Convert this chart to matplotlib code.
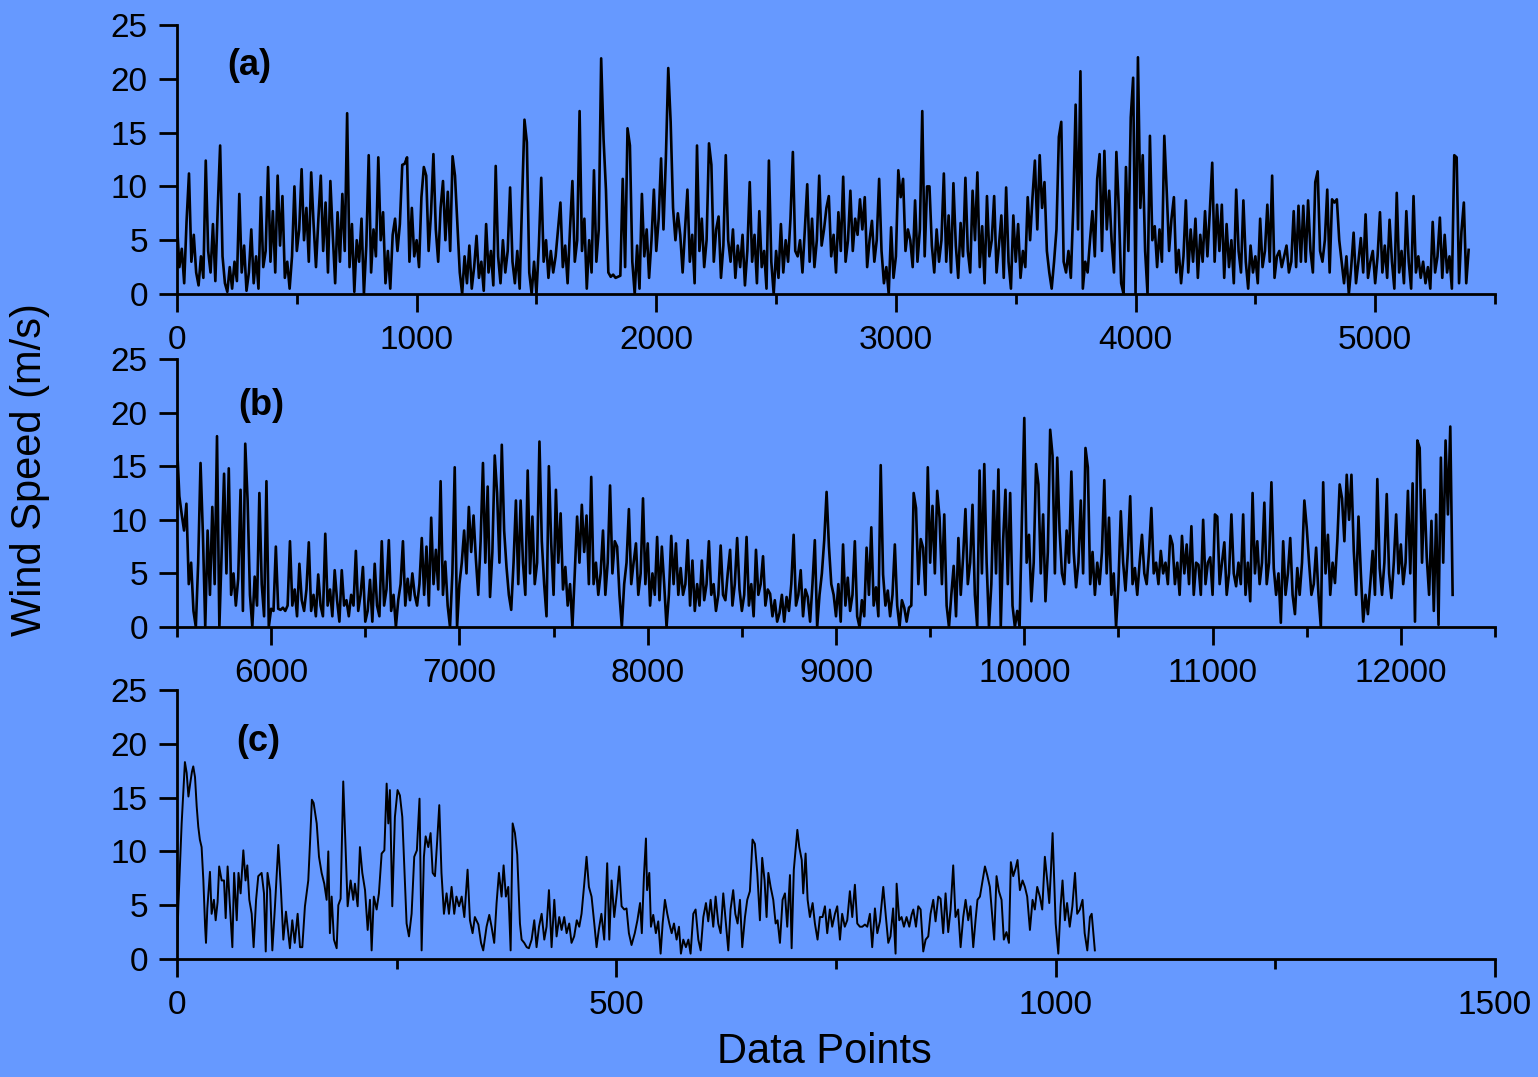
import numpy as np
import matplotlib
matplotlib.use('Agg')
import matplotlib.pyplot as plt
from matplotlib.ticker import MultipleLocator

plt.rcParams['font.family'] = ['Liberation Sans', 'DejaVu Sans']

BG = '#6699ff'

# (a) 0 .. 5390, one value every 10 data points
a_step = 10
a_speed = [
    6.5, 2.5, 4.2, 1.0, 6.8, 11.2, 3.0, 5.5, 2.0, 0.8,
    3.5, 1.5, 12.4, 4.0, 2.0, 6.5, 1.2, 8.0, 13.8, 3.5,
    1.0, 0.2, 2.5, 0.5, 3.0, 1.2, 9.3, 2.0, 4.5, 0.3,
    2.0, 6.0, 1.0, 3.5, 0.5, 9.0, 2.5, 4.0, 11.8, 3.0,
    7.7, 2.0, 11.0, 4.5, 9.1, 1.5, 3.0, 0.5, 3.5, 10.0,
    4.0, 6.0, 11.6, 5.0, 8.0, 3.0, 11.3, 6.5, 2.5, 7.0,
    11.0, 4.0, 8.5, 2.0, 10.5, 5.5, 1.0, 7.6, 3.0, 9.3,
    4.0, 16.8, 2.5, 6.5, 0.2, 5.0, 3.0, 7.0, 0.0, 4.5,
    12.9, 2.0, 6.0, 3.5, 12.7, 5.0, 7.6, 1.0, 4.0, 0.5,
    5.5, 7.0, 4.0, 6.5, 12.0, 12.1, 12.7, 3.0, 8.0, 3.5,
    5.0, 2.5, 9.0, 11.8, 11.0, 4.0, 7.5, 13.0, 6.0, 3.0,
    8.0, 10.5, 5.0, 9.5, 4.0, 12.8, 11.0, 6.5, 2.0, 0.0,
    3.5, 1.0, 4.5, 0.5, 2.5, 5.4, 1.5, 3.0, 0.3, 6.5,
    2.0, 4.0, 0.8, 11.9, 3.5, 1.0, 5.0, 2.0, 4.0, 9.9,
    3.0, 1.0, 4.0, 0.5, 8.7, 16.2, 14.1, 2.0, 0.0, 3.0,
    0.0, 4.5, 10.8, 3.0, 5.0, 1.5, 4.0, 2.0, 3.5, 6.0,
    8.5, 2.5, 4.5, 1.0, 6.0, 10.5, 3.0, 5.0, 17.0, 4.0,
    7.0, 0.5, 5.0, 2.0, 11.5, 3.0, 6.0, 21.9, 14.4, 9.7,
    2.0, 1.6, 1.8, 1.5, 1.6, 1.7, 10.7, 2.5, 15.4, 13.8,
    3.0, 0.0, 4.5, 0.5, 9.3, 3.5, 6.0, 1.5, 5.0, 9.7,
    4.0, 7.0, 12.6, 6.0, 12.6, 21.0, 16.0, 8.0, 5.0, 7.5,
    5.5, 2.0, 6.0, 9.7, 3.0, 5.5, 1.0, 13.8, 4.0, 7.0,
    2.5, 5.0, 14.0, 12.0, 3.0, 6.0, 7.2, 1.5, 4.5, 12.9,
    5.0, 3.0, 6.0, 1.5, 4.5, 2.5, 5.5, 0.8, 4.0, 10.4,
    3.0, 5.5, 1.0, 7.7, 2.5, 4.0, 0.5, 12.4, 3.0, 0.0,
    4.0, 1.5, 6.5, 2.0, 5.0, 3.0, 7.0, 13.2, 4.0, 3.5,
    5.0, 2.0, 6.0, 10.2, 3.0, 7.0, 2.5, 5.0, 11.0, 4.5,
    6.0, 8.0, 9.1, 3.5, 5.5, 2.0, 7.6, 4.0, 10.9, 3.0,
    5.0, 9.6, 4.0, 7.0, 5.5, 8.8, 6.0, 9.0, 2.5, 5.0,
    6.8, 3.0, 5.0, 10.7, 4.0, 1.0, 2.5, 0.0, 6.2, 1.5,
    3.5, 11.5, 9.0, 10.7, 4.0, 6.0, 5.0, 2.5, 8.7, 3.0,
    6.0, 17.0, 3.5, 10.0, 10.0, 4.5, 2.0, 6.0, 3.0, 5.0,
    11.2, 3.0, 7.3, 2.0, 10.3, 4.5, 1.5, 6.6, 3.5, 10.8,
    4.0, 2.0, 9.6, 5.0, 11.3, 2.5, 6.3, 1.0, 9.1, 3.5,
    5.0, 9.1, 2.0, 4.5, 7.3, 1.5, 9.9, 3.0, 0.5, 7.3,
    3.0, 6.5, 1.5, 4.0, 2.5, 9.0, 5.0, 9.0, 12.4, 6.0,
    12.9, 8.0, 10.4, 4.0, 2.0, 0.5, 3.0, 6.0, 14.6, 16.0,
    3.0, 2.0, 4.0, 1.5, 8.0, 17.6, 6.0, 20.7, 0.5, 3.0,
    2.0, 5.0, 7.7, 3.5, 10.7, 13.0, 4.0, 13.3, 6.0, 9.6,
    5.0, 2.0, 13.2, 8.0, 1.0, 0.0, 11.8, 4.0, 16.4, 20.1,
    0.0, 22.0, 8.0, 12.9, 4.0, 0.0, 14.7, 5.0, 6.3, 2.5,
    6.0, 3.0, 14.7, 9.6, 4.0, 7.0, 9.0, 2.0, 4.1, 1.0,
    3.5, 8.7, 2.0, 6.0, 3.0, 7.0, 1.5, 5.5, 3.0, 7.7,
    3.5, 7.7, 12.2, 3.0, 8.3, 4.0, 8.3, 1.5, 6.5, 2.5,
    5.0, 1.0, 9.7, 4.0, 2.0, 8.7, 3.0, 0.5, 4.5, 2.0,
    3.5, 1.0, 7.0, 2.5, 4.0, 8.3, 3.0, 11.0, 1.5, 3.5,
    4.0, 2.5, 3.5, 4.5, 2.0, 3.0, 7.7, 2.5, 8.2, 3.0,
    8.2, 3.0, 8.7, 4.0, 2.0, 10.4, 11.4, 4.0, 3.0, 5.0,
    9.7, 2.0, 8.8, 8.5, 8.8, 5.0, 3.0, 1.0, 3.5, 0.0,
    2.5, 5.7, 1.0, 3.0, 5.2, 2.0, 7.4, 1.5, 3.0, 4.0,
    1.0, 3.5, 7.6, 2.0, 4.5, 1.5, 6.9, 3.0, 0.5, 9.4,
    2.0, 4.0, 1.0, 7.7, 3.0, 0.5, 9.1, 2.0, 3.5, 1.5,
    3.0, 1.0, 2.5, 0.5, 6.7, 2.0, 3.5, 7.1, 1.5, 5.5,
    2.0, 3.5, 0.5, 12.9, 12.7, 1.0, 5.8, 8.5, 1.0, 4.1,
]

# (b) 5500 .. 12275, one value every 12.5 data points
b_start = 5500
b_step = 12.5
b_speed = [
    17.0, 12.2, 10.5, 9.0, 11.5, 4.0, 6.0, 1.5,
    0.0, 6.0, 15.3, 8.7, 0.0, 9.0, 3.0, 11.2,
    4.0, 17.8, 0.0, 7.0, 14.3, 5.0, 14.8, 3.0,
    5.0, 2.0, 4.5, 12.8, 1.5, 17.1, 11.8, 3.0,
    0.0, 4.7, 2.0, 12.5, 4.0, 1.0, 13.6, 0.0,
    1.7, 1.5, 7.5, 1.7, 1.6, 1.8, 1.5, 2.0,
    8.0, 2.0, 3.5, 1.0, 5.9, 2.5, 1.5, 3.5,
    7.9, 1.5, 3.0, 1.0, 4.9, 2.0, 1.0, 8.7,
    2.0, 3.5, 1.0, 5.3, 2.5, 0.5, 5.3, 2.0,
    2.5, 1.0, 3.0, 2.0, 7.1, 1.5, 3.0, 5.6,
    0.5, 1.5, 4.4, 0.5, 5.9, 2.0, 1.0, 8.0,
    2.0, 3.5, 8.1, 1.5, 3.0, 0.0, 2.5, 4.0,
    8.0, 2.0, 4.5, 2.5, 5.0, 3.0, 2.0, 4.0,
    8.3, 3.0, 7.5, 2.0, 10.2, 4.0, 7.2, 3.5,
    13.6, 3.0, 6.1, 2.0, 0.0, 5.0, 14.9, 0.0,
    4.0, 6.0, 9.0, 5.0, 11.2, 7.0, 10.4, 6.3,
    3.0, 8.0, 15.3, 6.0, 13.1, 2.8, 7.0, 16.0,
    12.5, 6.0, 17.0, 9.0, 5.6, 3.0, 1.6, 6.0,
    11.8, 4.0, 11.8, 6.0, 3.0, 14.6, 5.0, 10.3,
    4.0, 6.0, 17.3, 8.0, 4.0, 1.0, 15.0, 7.8,
    3.0, 12.8, 6.0, 10.6, 3.5, 5.6, 2.0, 4.0,
    0.0, 5.0, 10.3, 6.0, 11.4, 7.0, 10.4, 4.0,
    14.0, 4.0, 6.0, 3.0, 5.0, 9.0, 3.0, 6.0,
    13.2, 5.0, 8.0, 7.5, 3.0, 0.0, 4.0, 6.0,
    11.0, 4.0, 6.0, 7.8, 3.0, 5.0, 12.0, 4.0,
    7.8, 2.0, 5.0, 3.0, 8.4, 2.5, 7.5, 4.0,
    0.0, 3.0, 8.5, 4.0, 7.8, 3.0, 5.5, 3.0,
    4.0, 8.1, 2.0, 6.2, 1.5, 4.0, 2.0, 6.2,
    2.5, 4.0, 8.0, 3.0, 4.0, 1.5, 3.0, 7.6,
    3.0, 2.5, 5.0, 7.2, 2.0, 4.0, 8.3, 3.5,
    1.5, 3.0, 8.4, 2.0, 4.0, 1.0, 7.2, 3.0,
    4.0, 6.6, 2.0, 3.5, 3.1, 1.0, 2.5, 0.5,
    1.3, 3.0, 0.5, 2.8, 1.5, 4.0, 8.6, 2.0,
    3.0, 5.3, 1.0, 3.5, 2.8, 0.5, 4.0, 8.1,
    0.0, 3.0, 5.0, 8.1, 12.6, 7.5, 4.0, 3.0,
    1.0, 4.0, 0.5, 7.7, 2.0, 4.6, 1.5, 3.0,
    8.0, 1.0, 0.0, 2.5, 1.0, 7.4, 3.0, 9.3,
    2.0, 3.7, 1.0, 15.1, 4.9, 2.0, 3.4, 1.0,
    3.0, 7.7, 2.0, 0.0, 2.5, 1.8, 0.5, 1.8,
    2.0, 12.5, 11.1, 4.0, 8.2, 7.4, 3.0, 14.9,
    6.0, 11.3, 5.0, 12.7, 10.2, 4.0, 10.5, 2.0,
    0.0, 3.0, 5.7, 1.0, 8.3, 3.0, 6.5, 11.0,
    4.0, 6.0, 11.4, 3.0, 0.0, 14.6, 5.0, 15.2,
    6.0, 0.0, 4.0, 12.7, 5.0, 14.7, 0.0, 8.0,
    12.8, 4.0, 12.5, 2.0, 0.0, 1.5, 0.0, 10.2,
    19.5, 6.0, 8.6, 2.4, 6.0, 15.2, 13.3, 5.0,
    10.5, 2.4, 7.0, 18.4, 16.0, 5.0, 15.8, 9.0,
    5.0, 4.0, 9.0, 6.0, 14.5, 7.0, 3.7, 6.0,
    11.8, 5.0, 16.7, 14.9, 4.0, 7.0, 3.0, 6.0,
    4.0, 7.0, 13.7, 5.0, 10.2, 3.0, 5.0, 0.0,
    4.0, 10.8, 6.0, 3.4, 7.0, 12.2, 4.0, 5.5,
    3.0, 6.0, 8.6, 5.0, 4.0, 7.0, 11.1, 5.0,
    6.0, 4.0, 7.1, 5.0, 6.0, 4.0, 8.5, 7.7,
    4.0, 6.0, 3.0, 8.5, 5.0, 7.7, 4.0, 9.4,
    3.0, 6.0, 5.8, 3.0, 10.0, 4.0, 6.0, 6.5,
    3.0, 10.5, 10.3, 4.0, 6.0, 7.9, 3.0, 5.0,
    10.5, 5.0, 3.8, 6.0, 4.0, 10.5, 3.0, 6.0,
    2.4, 12.5, 5.0, 8.0, 4.0, 6.0, 11.6, 4.0,
    6.0, 13.5, 5.5, 3.0, 5.0, 0.4, 8.0, 3.0,
    5.0, 8.3, 3.0, 1.2, 5.5, 3.0, 6.0, 11.8,
    9.3, 6.0, 3.0, 4.0, 7.4, 3.0, 0.0, 13.5,
    5.0, 8.6, 3.0, 6.0, 4.1, 8.0, 13.3, 12.0,
    8.0, 14.2, 10.0, 14.2, 7.1, 3.0, 10.3, 5.0,
    0.5, 3.0, 1.2, 4.0, 7.1, 3.0, 13.8, 5.5,
    3.0, 6.0, 12.4, 5.0, 2.7, 6.0, 10.5, 5.0,
    7.7, 4.0, 6.0, 12.7, 5.0, 13.4, 0.5, 17.4,
    16.7, 6.0, 12.8, 6.5, 3.0, 9.9, 1.5, 10.5,
    0.2, 15.8, 6.0, 17.4, 10.5, 18.7, 3.0,
]

# (c) 0 .. 1045
c_x = [
    0, 1.5, 5.3, 9, 11, 13, 15, 17, 18.5, 20.5,
    22.4, 24.2, 26, 28, 30, 32, 33, 34.5, 37.5, 39.4,
    42, 44, 46.2, 48, 50.8, 53.5, 55.4, 57.6, 60.3, 63,
    65, 68, 70, 72.4, 75.5, 78, 80, 82.3, 85, 87.2,
    90, 92.5, 96.3, 99, 101, 103, 106, 108.5, 111.5, 115.3,
    118.3, 121, 124, 126.7, 128.5, 131.2, 134, 137.3, 140, 142.6,
    145.6, 149.4, 151.5, 153.5, 155.5, 159, 161.6, 164.6, 167.6, 170.3,
    172.2, 174, 176, 178.6, 181.7, 183.6, 186.2, 189.2, 192, 194.2,
    197.6, 200.6, 202.5, 205.6, 208.2, 210.9, 214, 217, 219.6, 221.5,
    224, 227.2, 229.8, 232.9, 236, 238.6, 240.5, 242.3, 245, 248,
    251, 253.7, 256.4, 258.7, 261.3, 264, 267, 270, 273, 276,
    278.4, 281, 283, 286, 288.6, 291, 293.6, 296.2, 298.5, 301,
    303.8, 306.8, 309.5, 312.5, 315.5, 318, 321, 324, 327, 330.7,
    333.4, 336.4, 339, 343, 346, 348.5, 352.3, 355.4, 358, 361,
    363.7, 366.4, 369.4, 371.7, 374.3, 377, 379.7, 382, 384.6, 387.2,
    390.3, 392.2, 395.2, 398, 400.5, 403.6, 406.6, 409.2, 412, 415,
    418, 420.6, 423.3, 426.3, 429.4, 432, 435, 437.7, 440.7, 443.4,
    446.4, 449, 452, 455, 457.8, 460.4, 463.5, 466.1, 468.8, 471.8,
    474.9, 477.5, 480, 483, 486.2, 489.6, 492, 494.6, 497.6, 501,
    503.3, 506, 509, 511.6, 514.3, 517.3, 521, 524, 527, 529,
    531.4, 533.7, 535, 537.5, 539.4, 542, 545, 547.7, 550.4, 552.7,
    555.3, 558, 560.3, 563, 565.6, 568.6, 571.3, 573.5, 576.2, 579.2,
    582, 584.5, 587.6, 590.2, 593.3, 596, 599, 602, 604.6, 607.3,
    610.3, 613, 616, 618.7, 621.7, 624.4, 627.4, 630, 633, 635.4,
    638, 640.7, 643.3, 646.4, 649, 652, 655, 657.7, 660.4, 663.4,
    666, 668.7, 671, 673, 675.6, 678.6, 681.3, 683.5, 686.2, 689.2,
    691.9, 694.5, 697.6, 699.5, 702, 706, 708.2, 711, 712.7, 715.4,
    717.7, 720.3, 723.4, 726, 729, 731.7, 734.7, 737.4, 740, 743,
    745.7, 748.8, 751.4, 754.5, 757, 760, 762.8, 765.8, 768.5, 771.5,
    774.2, 777.2, 779.9, 782.9, 785.6, 788.6, 791.2, 794.3, 797, 800,
    803.8, 806.8, 809.5, 812, 815, 817.8, 819, 822, 824.6, 827.3,
    830.3, 833.4, 836, 838, 841, 843.6, 846.3, 849.3, 852, 855,
    857.6, 860.7, 863.3, 866.4, 869, 872, 874.7, 877.7, 880.4, 883.4,
    886, 889, 891.8, 894.8, 897.5, 900.5, 903.1, 906.2, 908.8, 911,
    913.8, 916.8, 919.5, 922.1, 925.1, 928.2, 930, 932.7, 935.4, 938.4,
    941, 944, 946.8, 949, 951.7, 954.3, 956.6, 959.3, 962.3, 965,
    967.6, 970.7, 973.7, 976.3, 979, 982, 984.7, 987.7, 990.4, 992.7,
    994.5, 996.5, 998.3, 1000, 1003, 1005.6, 1007.8, 1010.5, 1013, 1016,
    1019, 1022, 1024.5, 1027.5, 1030.6, 1033, 1036, 1039, 1041, 1044.6,
]
c_speed = [
    0.3, 4.9, 12.6, 18.3, 17.3, 15.1, 16.3, 17.4, 17.9, 16.9,
    14.2, 12.3, 11.1, 10.4, 7.3, 3.0, 1.5, 4.7, 8.1, 4.2,
    5.5, 3.6, 5.3, 8.6, 7.3, 7.3, 3.8, 8.6, 4.9, 1.1,
    8.0, 3.6, 8.0, 6.1, 10.1, 7.3, 8.7, 5.5, 4.2, 1.1,
    5.5, 7.7, 8.0, 6.1, 0.7, 8.0, 6.4, 0.8, 4.9, 10.6,
    6.4, 1.8, 4.4, 2.4, 1.0, 3.6, 1.5, 4.2, 1.1, 1.1,
    4.9, 7.3, 11.0, 14.8, 14.5, 12.6, 9.5, 8.0, 7.0, 5.5,
    10.0, 2.4, 5.8, 1.8, 1.0, 5.0, 5.6, 16.5, 10.1, 4.9,
    7.3, 5.5, 7.0, 4.9, 10.4, 8.0, 6.4, 2.7, 5.5, 0.8,
    5.8, 4.6, 6.1, 9.8, 10.1, 16.3, 12.6, 15.7, 4.9, 13.2,
    15.7, 15.2, 13.2, 8.6, 3.3, 2.1, 4.2, 9.5, 10.1, 14.9,
    0.8, 9.5, 11.4, 10.4, 11.7, 8.0, 7.7, 11.1, 14.3, 8.0,
    4.2, 6.1, 4.2, 6.7, 4.2, 5.8, 4.9, 5.8, 3.9, 8.3,
    3.6, 2.4, 3.9, 3.2, 1.5, 0.8, 3.0, 4.1, 3.0, 1.5,
    5.2, 8.0, 5.8, 8.7, 5.8, 6.7, 0.8, 12.6, 11.7, 9.7,
    3.3, 1.8, 1.5, 1.1, 1.0, 1.8, 3.6, 1.1, 3.0, 4.2,
    1.8, 3.0, 6.4, 1.1, 5.5, 2.1, 3.9, 2.7, 3.9, 2.4,
    3.3, 1.5, 2.1, 3.6, 3.0, 4.2, 7.0, 9.5, 6.7, 5.8,
    3.3, 1.1, 2.7, 4.2, 1.8, 8.9, 1.8, 7.3, 3.9, 6.4,
    8.6, 4.9, 4.6, 4.7, 2.4, 1.3, 2.4, 3.6, 5.2, 2.4,
    7.7, 11.2, 6.4, 8.0, 3.0, 4.1, 2.4, 3.5, 0.5, 3.3,
    5.5, 4.2, 3.3, 2.4, 3.3, 1.8, 3.0, 0.5, 1.8, 1.1,
    1.8, 0.5, 4.2, 4.6, 1.8, 0.8, 3.9, 5.2, 3.5, 5.5,
    3.0, 5.8, 3.3, 2.4, 6.1, 3.6, 0.8, 4.6, 6.4, 4.2,
    3.3, 5.5, 1.1, 3.9, 5.5, 6.3, 11.1, 10.7, 8.0, 3.6,
    9.4, 7.3, 3.9, 8.0, 6.7, 5.5, 3.3, 3.6, 1.5, 5.5,
    6.1, 3.0, 7.8, 1.0, 8.3, 12.0, 10.4, 9.2, 6.1, 9.8,
    5.5, 3.9, 5.2, 3.3, 1.8, 3.9, 3.9, 4.9, 2.4, 4.6,
    3.0, 4.2, 4.9, 1.8, 4.2, 3.0, 3.6, 6.3, 3.9, 6.9,
    3.3, 3.0, 3.0, 3.2, 3.0, 4.2, 1.1, 4.7, 2.4, 3.5,
    6.7, 3.9, 1.5, 2.1, 4.7, 0.5, 7.0, 3.6, 3.9, 3.0,
    3.9, 3.0, 4.1, 4.6, 3.0, 4.9, 4.6, 0.7, 1.8, 2.1,
    4.2, 5.5, 3.5, 5.8, 5.6, 2.4, 6.1, 2.5, 4.6, 8.7,
    3.9, 4.6, 1.1, 3.9, 5.5, 3.6, 4.9, 1.1, 3.6, 5.5,
    5.8, 7.3, 8.6, 7.8, 6.7, 3.6, 1.8, 7.7, 6.3, 5.5,
    1.8, 2.5, 1.5, 9.0, 7.7, 8.4, 9.2, 6.4, 7.3, 6.7,
    5.8, 2.7, 5.5, 4.6, 6.7, 5.8, 4.6, 9.5, 7.3, 5.2,
    8.0, 11.7, 7.3, 3.3, 0.5, 4.9, 7.3, 3.6, 5.2, 3.0,
    4.9, 8.0, 4.2, 4.6, 5.5, 2.4, 0.8, 3.9, 4.2, 0.8,
]

a_x = a_step * np.arange(len(a_speed))
b_x = b_start + b_step * np.arange(len(b_speed))

panels = [
    # x, y, xlim, major, minor, label, (top px, bottom px), label pos, line width
    (a_x, a_speed, (0, 5500), 1000, 500, '(a)', (25, 294), (0.055, 0.85), 1.9),
    (b_x, b_speed, (5500, 12500), 1000, 500, '(b)', (359, 627), (0.064, 0.828), 1.9),
    (c_x, c_speed, (0, 1500), 500, 250, '(c)', (690, 959), (0.0615, 0.807), 1.4),
]

W, H = 1538, 1077
fig = plt.figure(figsize=(W / 100, H / 100), dpi=100, facecolor=BG)
left, right = 177 / W, 1495 / W

for x, y, xlim, major, minor, label, (top, bot), lpos, lw in panels:
    ax = fig.add_axes([left, 1 - bot / H, right - left, (bot - top) / H])
    ax.set_facecolor(BG)
    ax.plot(x, y, color='black', lw=lw)
    ax.set_xlim(*xlim)
    ax.set_ylim(0, 25)
    ax.xaxis.set_major_locator(MultipleLocator(major))
    ax.xaxis.set_minor_locator(MultipleLocator(minor))
    ax.yaxis.set_major_locator(MultipleLocator(5))
    for s in ['top', 'right']:
        ax.spines[s].set_visible(False)
    for s in ['left', 'bottom']:
        ax.spines[s].set_linewidth(2)
    ax.tick_params(which='major', direction='out', length=13, width=2, labelsize=24)
    ax.tick_params(axis='x', which='minor', direction='out', length=7, width=2)
    ax.tick_params(axis='x', which='major', pad=9)
    ax.tick_params(axis='y', which='major', pad=8)
    ax.text(lpos[0], lpos[1], label, transform=ax.transAxes, fontsize=26,
            fontweight='bold', ha='center', va='center')

fig.text(824.5 / W, 1 - 1052 / H, 'Data Points', fontsize=30, ha='center', va='center')
fig.text(30 / W, 1 - 470 / H, 'Wind Speed (m/s)', fontsize=30, rotation=90,
         ha='center', va='center')

fig.savefig('out.png', dpi=100, facecolor=BG)
